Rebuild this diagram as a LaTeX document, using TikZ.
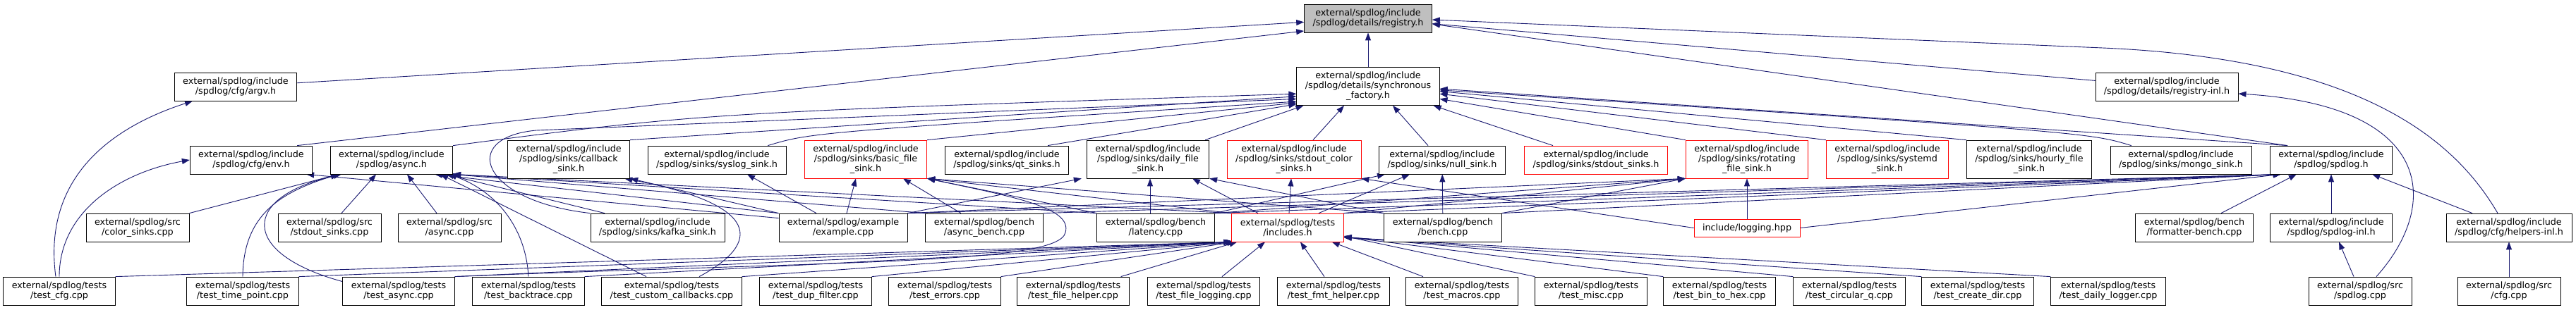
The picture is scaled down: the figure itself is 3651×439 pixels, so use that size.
\documentclass[tikz,border=0pt]{standalone}
\usepackage{fontspec}
\setmainfont{DejaVu Sans}
\usetikzlibrary{arrows.meta,backgrounds}
\definecolor{edgeblue}{RGB}{25,25,112}
\definecolor{rootgray}{RGB}{191,191,191}
\tikzset{
  file/.style={draw=black, line width=0.8pt, fill=white, align=center,
    inner xsep=12pt, inner ysep=2pt, minimum height=40pt,
    font=\fontsize{12.75}{14}\selectfont},
  tall/.style={file, minimum height=54pt},
  trunc/.style={draw=red},
  dep/.style={edgeblue, line width=0.9pt, -{Triangle[length=11pt,width=8pt]}},
}
\begin{document}
\begin{tikzpicture}[x=1pt, y=-1pt]
    \useasboundingbox (0,0) rectangle (3651,439);
    % Rank 0 and 1
    \node[file, fill=rootgray] (registry) at (1939,26) {external/spdlog/include\\/spdlog/details/registry.h};
    \node[tall] (syncf) at (1939,122.5) {external/spdlog/include\\/spdlog/details/synchronous\\\_factory.h};
    \node[file] (argv) at (334,123) {external/spdlog/include\\/spdlog/cfg/argv.h};
    \node[file] (reginl) at (3071,123) {external/spdlog/include\\/spdlog/details/registry-inl.h};
    % Rank 2: headers
    \node[file] (env) at (356,227) {external/spdlog/include\\/spdlog/cfg/env.h};
    \node[file] (async) at (555,227) {external/spdlog/include\\/spdlog/async.h};
    \node[tall] (callback) at (806,226) {external/spdlog/include\\/spdlog/sinks/callback\\\_sink.h};
    \node[file] (syslog) at (1016,227) {external/spdlog/include\\/spdlog/sinks/syslog\_sink.h};
    \node[tall, trunc] (basic) at (1227,226) {external/spdlog/include\\/spdlog/sinks/basic\_file\\\_sink.h};
    \node[file] (qt) at (1427,227) {external/spdlog/include\\/spdlog/sinks/qt\_sinks.h};
    \node[tall] (daily) at (1627,226) {external/spdlog/include\\/spdlog/sinks/daily\_file\\\_sink.h};
    \node[tall, trunc] (stdcolor) at (1834,226) {external/spdlog/include\\/spdlog/sinks/stdout\_color\\\_sinks.h};
    \node[file] (null) at (2044,227) {external/spdlog/include\\/spdlog/sinks/null\_sink.h};
    \node[file, trunc] (stdsinks) at (2262,227) {external/spdlog/include\\/spdlog/sinks/stdout\_sinks.h};
    \node[tall, trunc] (rotating) at (2476,226) {external/spdlog/include\\/spdlog/sinks/rotating\\\_file\_sink.h};
    \node[tall, trunc] (systemd) at (2675,226) {external/spdlog/include\\/spdlog/sinks/systemd\\\_sink.h};
    \node[tall] (hourly) at (2876,226) {external/spdlog/include\\/spdlog/sinks/hourly\_file\\\_sink.h};
    \node[file] (mongo) at (3091,227) {external/spdlog/include\\/spdlog/sinks/mongo\_sink.h};
    \node[file] (spdlogh) at (3304,227) {external/spdlog/include\\/spdlog/spdlog.h};
    % Rank 3
    \node[file] (colorcpp) at (195,323) {external/spdlog/src\\/color\_sinks.cpp};
    \node[file] (stdsinkscpp) at (467,323) {external/spdlog/src\\/stdout\_sinks.cpp};
    \node[file] (asynccpp) at (637,323) {external/spdlog/src\\/async.cpp};
    \node[file] (kafka) at (932,323) {external/spdlog/include\\/spdlog/sinks/kafka\_sink.h};
    \node[file] (example) at (1195,323) {external/spdlog/example\\/example.cpp};
    \node[file] (abench) at (1395,323) {external/spdlog/bench\\/async\_bench.cpp};
    \node[file] (latency) at (1638,323) {external/spdlog/bench\\/latency.cpp};
    \node[file, trunc] (includes) at (1825,323) {external/spdlog/tests\\/includes.h};
    \node[file] (bench) at (2045,323) {external/spdlog/bench\\/bench.cpp};
    \node[file, trunc, minimum height=25pt] (logging) at (2476,323.5) {include/logging.hpp};
    \node[file] (fbench) at (3110,323) {external/spdlog/bench\\/formatter-bench.cpp};
    \node[file] (sinl) at (3304,323) {external/spdlog/include\\/spdlog/spdlog-inl.h};
    \node[file] (helpers) at (3556,323) {external/spdlog/include\\/spdlog/cfg/helpers-inl.h};
    % Rank 4: tests and sources
    \node[file] (tcfg) at (84,413) {external/spdlog/tests\\/test\_cfg.cpp};
    \node[file] (ttp) at (344,413) {external/spdlog/tests\\/test\_time\_point.cpp};
    \node[file] (tasync) at (565,413) {external/spdlog/tests\\/test\_async.cpp};
    \node[file] (tbt) at (749,413) {external/spdlog/tests\\/test\_backtrace.cpp};
    \node[file] (tcc) at (952,413) {external/spdlog/tests\\/test\_custom\_callbacks.cpp};
    \node[file] (tdup) at (1156,413) {external/spdlog/tests\\/test\_dup\_filter.cpp};
    \node[file] (terr) at (1339,413) {external/spdlog/tests\\/test\_errors.cpp};
    \node[file] (tfh) at (1521,413) {external/spdlog/tests\\/test\_file\_helper.cpp};
    \node[file] (tfl) at (1706,413) {external/spdlog/tests\\/test\_file\_logging.cpp};
    \node[file] (tfmt) at (1890,413) {external/spdlog/tests\\/test\_fmt\_helper.cpp};
    \node[file] (tmac) at (2072,413) {external/spdlog/tests\\/test\_macros.cpp};
    \node[file] (tmisc) at (2255,413) {external/spdlog/tests\\/test\_misc.cpp};
    \node[file] (tbin) at (2437,413) {external/spdlog/tests\\/test\_bin\_to\_hex.cpp};
    \node[file] (tcq) at (2621,413) {external/spdlog/tests\\/test\_circular\_q.cpp};
    \node[file] (tcd) at (2803,413) {external/spdlog/tests\\/test\_create\_dir.cpp};
    \node[file] (tdl) at (2988,413) {external/spdlog/tests\\/test\_daily\_logger.cpp};
    \node[file] (scpp) at (3345,413) {external/spdlog/src\\/spdlog.cpp};
    \node[file] (cfgcpp) at (3556,413) {external/spdlog/src\\/cfg.cpp};

    \begin{scope}[on background layer]
    \fill[white] (0,0) rectangle (3651,439);
    % into registry.h
    \draw[dep] (argv) -- (registry);
    \draw[dep] ([xshift=-22pt]env.north east) -- ([yshift=-18pt]registry.west);
    \draw[dep] (syncf) -- (registry);
    \draw[dep] (reginl) -- (registry);
    \draw[dep] ([xshift=-62pt]spdlogh.north) -- ([yshift=-8pt]registry.east);
    \draw[dep] ([xshift=-16pt]helpers.north) .. controls (3480,200) and (3350,84) .. (2980,68) -- ([yshift=-2pt]registry.east);
    % into synchronous_factory.h
    \draw[dep] (async.north east) .. controls (1000,160) .. (syncf.186);
    \draw[dep] (callback.north east) -- (syncf.188);
    \draw[dep] (kafka.north west) .. controls (680,285) and (650,195) .. (760,185) -- (syncf.190);
    \draw[dep] ([xshift=-26pt]syslog.north east) .. controls (1150,188) .. (syncf.192);
    \draw[dep] (basic.north east) -- (syncf.193);
    \draw[dep] ([xshift=-30pt]qt.north east) -- (syncf.194);
    \draw[dep] ([xshift=-6pt]daily.north east) -- ([xshift=10pt]syncf.south west);
    \draw[dep] ([xshift=27pt]stdcolor.north) -- ([xshift=-34pt]syncf.south);
    \draw[dep] ([xshift=-20pt]null.north) -- ([xshift=35pt]syncf.south);
    \draw[dep] ([xshift=-61pt]stdsinks.north) -- ([xshift=-9pt]syncf.south east);
    \draw[dep] (rotating.north west) -- (syncf.350);
    \draw[dep] (systemd.north west) -- (syncf.354);
    \draw[dep] (hourly.north west) -- (syncf.356);
    \draw[dep] ([xshift=30pt]mongo.north west) .. controls (2960,188) .. (syncf.357);
    \draw[dep] ([xshift=-62pt]spdlogh.north) -- (syncf.358);
    % into async.h
    \draw[dep] (colorcpp.north east) -- ([xshift=12pt]async.south west);
    \draw[dep] (ttp.north) .. controls (345,310) and (390,275) .. ([xshift=12pt]async.south west);
    \draw[dep] ([yshift=-7pt]tasync.north west) .. controls (340,360) and (340,280) .. ([xshift=16pt]async.south west);
    \draw[dep] (tbt.north) .. controls (745,320) and (700,270) .. ([xshift=-6pt]async.south east);
    \draw[dep] ([xshift=-36pt]tcc.north) -- ([xshift=-18pt]async.south east);
    \draw[dep] ([xshift=17pt]stdsinkscpp.north) -- ([xshift=-22pt]async.south);
    \draw[dep] ([xshift=-18pt]asynccpp.north) -- ([xshift=22pt]async.south);
    \draw[dep] ([xshift=-75pt]kafka.north) -- ([xshift=-10pt]async.south east);
    \draw[dep] (example.north west) -- ([xshift=-26pt]async.south east);
    \draw[dep] (abench.north west) -- ([xshift=-2pt]async.south east);
    \draw[dep] (latency.north west) -- (async.south east);
    \draw[dep] (includes.north west) -- (async.south east);
    % into cfg headers
    \draw[dep] (tcfg.north) .. controls (84,300) and (170,245) .. (env.west);
    \draw[dep] ([xshift=-5pt]tcfg.north) .. controls (60,250) and (160,180) .. ([xshift=-61pt]argv.south);
    \draw[dep] ([yshift=-7pt]example.north west) -- ([xshift=-9pt]env.south east);
    % into sinks
    \draw[dep] (example.north west) -- (callback.south east);
    \draw[dep] ([xshift=39pt]tcc.north) .. controls (1080,345) and (1080,290) .. ([xshift=-8pt]callback.south east);
    \draw[dep] ([xshift=-38pt]example.north) -- ([xshift=43pt]syslog.south);
    \draw[dep] ([xshift=5pt]example.north) -- ([xshift=-14pt]basic.south);
    \draw[dep] ([xshift=-33pt]abench.north) -- ([xshift=53pt]basic.south);
    \draw[dep] (latency.north west) -- (basic.south east);
    \draw[dep] (bench.north west) -- (basic.south east);
    \draw[dep] (includes.north west) -- (basic.south east);
    \draw[dep] (tasync.north east) .. controls (1200,370) and (1500,375) .. (1510,330) .. controls (1520,295) and (1440,280) .. (basic.south east);
    \draw[dep] (example.north east) -- ([xshift=-7pt]daily.south west);
    \draw[dep] ([xshift=-8pt]latency.north) -- ([xshift=3pt]daily.south);
    \draw[dep] ([xshift=-42pt]includes.north) -- ([xshift=63pt]daily.south);
    \draw[dep] (bench.north west) -- (daily.south east);
    \draw[dep] ([xshift=2pt]includes.north) -- ([xshift=-4pt]stdcolor.south);
    \draw[dep] (logging.west) -- (stdcolor.south east);
    \draw[dep] (bench) -- (null);
    \draw[dep] ([xshift=44pt]includes.north) -- ([xshift=-46pt]null.south);
    \draw[dep] (latency.north east) -- ([xshift=-81pt]null.south);
    \draw[dep] (includes.north east) -- (rotating.south west);
    \draw[dep] (bench.north east) -- (rotating.south west);
    \draw[dep] (latency.north east) -- (rotating.south west);
    \draw[dep] (example.north east) -- (rotating.south west);
    \draw[dep] (logging) -- (rotating);
    % into tests/includes.h
    \draw[dep] (tcfg.north east) -- (includes.south west);
    \draw[dep] (ttp.north east) -- (includes.south west);
    \draw[dep] (tasync.north east) -- (includes.south west);
    \draw[dep] (tbt.north east) -- ([xshift=3pt]includes.south west);
    \draw[dep] (tcc.north east) -- ([xshift=3pt]includes.south west);
    \draw[dep] (tdup.north east) -- ([xshift=5pt]includes.south west);
    \draw[dep] (terr.north east) -- ([xshift=5pt]includes.south west);
    \draw[dep] ([xshift=-12pt]tfh.north east) -- ([xshift=8pt]includes.south west);
    \draw[dep] ([xshift=26pt]tfl.north) -- ([xshift=-32pt]includes.south);
    \draw[dep] ([xshift=-13pt]tfmt.north) -- ([xshift=18pt]includes.south);
    \draw[dep] ([xshift=-55pt]tmac.north) -- ([xshift=-17pt]includes.south east);
    \draw[dep] (tmisc.north west) -- ([yshift=-12pt]includes.east);
    \draw[dep] (tbin.north west) -- ([yshift=-13pt]includes.east);
    \draw[dep] (tcq.north west) -- ([yshift=-13pt]includes.east);
    \draw[dep] (tcd.north west) -- ([yshift=-14pt]includes.east);
    \draw[dep] (tdl.north west) -- ([yshift=-14pt]includes.east);
    % into spdlog.h and the inl files
    \draw[dep] (includes.north east) -- ([xshift=16pt]spdlogh.south west);
    \draw[dep] (example.north east) -- ([xshift=16pt]spdlogh.south west);
    \draw[dep] (abench.north east) -- ([xshift=16pt]spdlogh.south west);
    \draw[dep] (latency.north east) -- ([xshift=16pt]spdlogh.south west);
    \draw[dep] (bench.north east) -- ([xshift=16pt]spdlogh.south west);
    \draw[dep] (logging.east) -- ([xshift=16pt]spdlogh.south west);
    \draw[dep] ([xshift=38pt]fbench.north) -- ([xshift=38pt]spdlogh.south west);
    \draw[dep] (sinl) -- (spdlogh);
    \draw[dep] ([xshift=-52pt]helpers.north) -- ([xshift=-29pt]spdlogh.south east);
    \draw[dep] ([xshift=-9pt]scpp.north) -- ([xshift=11pt]sinl.south);
    \draw[dep] ([xshift=23pt]scpp.north) .. controls (3460,290) and (3450,150) .. ([yshift=-10pt]reginl.east);
    \draw[dep] (cfgcpp) -- (helpers);
    \end{scope}
\end{tikzpicture}
\end{document}
